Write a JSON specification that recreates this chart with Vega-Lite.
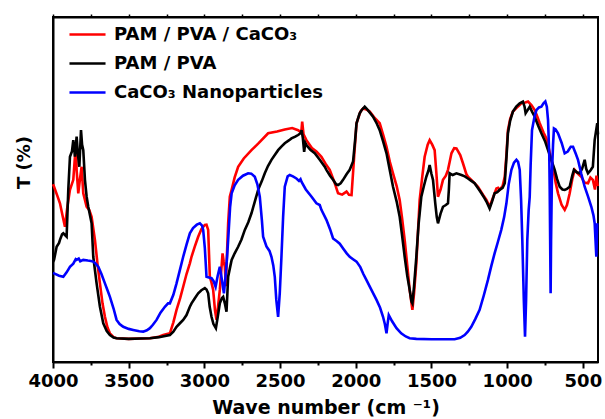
{
  "$schema": "https://vega.github.io/schema/vega-lite/v6.json",
  "width": 545,
  "height": 345,
  "autosize": {"type": "none"},
  "padding": {"left": 53, "top": 17, "right": 7, "bottom": 57},
  "background": "white",
  "config": {
    "view": {"stroke": "black", "strokeWidth": 2},
    "font": "DejaVu Sans"
  },
  "datasets": {
    "red": [
      {"wn":4000,"T":51.5},{"wn":3993,"T":50.8},{"wn":3970,"T":48},{"wn":3954,"T":46},{"wn":3935,"T":42},{"wn":3921,"T":39.2},{"wn":3905,"T":45},{"wn":3888,"T":49.9},{"wn":3866,"T":52.8},{"wn":3855,"T":59.5},{"wn":3848,"T":62.5},{"wn":3844,"T":55.7},{"wn":3833,"T":48.9},{"wn":3822,"T":53},{"wn":3811,"T":56.6},{"wn":3800,"T":48.9},{"wn":3789,"T":47},{"wn":3778,"T":45},{"wn":3760,"T":44},{"wn":3745,"T":42.1},{"wn":3723,"T":35.4},{"wn":3705,"T":28},{"wn":3690,"T":22.8},{"wn":3673,"T":17},{"wn":3657,"T":13.1},{"wn":3640,"T":10},{"wn":3624,"T":8.3},{"wn":3600,"T":7.2},{"wn":3580,"T":6.9},{"wn":3500,"T":6.7},{"wn":3420,"T":6.8},{"wn":3360,"T":6.9},{"wn":3300,"T":7.3},{"wn":3272,"T":7.8},{"wn":3228,"T":8.3},{"wn":3205,"T":11.5},{"wn":3184,"T":15.1},{"wn":3160,"T":18.5},{"wn":3140,"T":21.8},{"wn":3118,"T":25.5},{"wn":3096,"T":28.6},{"wn":3085,"T":30.5},{"wn":3063,"T":33.5},{"wn":3041,"T":36.3},{"wn":3020,"T":38.5},{"wn":2997,"T":39.7},{"wn":2986,"T":39.8},{"wn":2975,"T":38.3},{"wn":2964,"T":24.7},{"wn":2953,"T":23},{"wn":2942,"T":20.9},{"wn":2930,"T":15},{"wn":2920,"T":12.2},{"wn":2910,"T":16},{"wn":2898,"T":20.9},{"wn":2880,"T":31.5},{"wn":2872,"T":29},{"wn":2865,"T":27.6},{"wn":2858,"T":22},{"wn":2852,"T":30},{"wn":2843,"T":40.2},{"wn":2832,"T":47.9},{"wn":2820,"T":49.9},{"wn":2800,"T":53.5},{"wn":2777,"T":56.6},{"wn":2740,"T":59},{"wn":2689,"T":61.4},{"wn":2640,"T":63.5},{"wn":2579,"T":66.3},{"wn":2520,"T":66.8},{"wn":2469,"T":67.4},{"wn":2420,"T":67.8},{"wn":2381,"T":67.2},{"wn":2360,"T":66.5},{"wn":2354,"T":69.7},{"wn":2345,"T":66},{"wn":2326,"T":64.3},{"wn":2290,"T":62},{"wn":2260,"T":61},{"wn":2227,"T":59.5},{"wn":2200,"T":57.5},{"wn":2172,"T":55.7},{"wn":2140,"T":52},{"wn":2117,"T":48.9},{"wn":2090,"T":48.5},{"wn":2061,"T":49.4},{"wn":2045,"T":48.5},{"wn":2028,"T":48.4},{"wn":2010,"T":60},{"wn":1995,"T":69.2},{"wn":1970,"T":72.5},{"wn":1952,"T":73.5},{"wn":1930,"T":73.2},{"wn":1908,"T":72.6},{"wn":1880,"T":71},{"wn":1842,"T":69.2},{"wn":1820,"T":66},{"wn":1797,"T":62.4},{"wn":1775,"T":58},{"wn":1754,"T":54.7},{"wn":1730,"T":51},{"wn":1710,"T":47},{"wn":1695,"T":42},{"wn":1677,"T":35.4},{"wn":1660,"T":28},{"wn":1644,"T":20.9},{"wn":1626,"T":15.1},{"wn":1615,"T":20},{"wn":1600,"T":28.6},{"wn":1590,"T":37},{"wn":1578,"T":47},{"wn":1560,"T":54},{"wn":1545,"T":59.5},{"wn":1525,"T":63},{"wn":1512,"T":64.3},{"wn":1495,"T":63},{"wn":1479,"T":61.4},{"wn":1468,"T":55},{"wn":1457,"T":47.9},{"wn":1440,"T":50},{"wn":1424,"T":52.8},{"wn":1405,"T":54},{"wn":1391,"T":55.7},{"wn":1380,"T":58},{"wn":1368,"T":60.5},{"wn":1350,"T":62},{"wn":1335,"T":61.9},{"wn":1310,"T":60},{"wn":1292,"T":57.6},{"wn":1270,"T":54.5},{"wn":1259,"T":53.7},{"wn":1230,"T":52.5},{"wn":1193,"T":50.8},{"wn":1160,"T":48.5},{"wn":1137,"T":47},{"wn":1116,"T":45},{"wn":1095,"T":47.5},{"wn":1071,"T":50.3},{"wn":1060,"T":50.5},{"wn":1050,"T":49.9},{"wn":1030,"T":51},{"wn":1016,"T":53.7},{"wn":1005,"T":60},{"wn":995,"T":67.2},{"wn":980,"T":70.5},{"wn":962,"T":72.6},{"wn":930,"T":74},{"wn":906,"T":75},{"wn":880,"T":75.2},{"wn":862,"T":75.5},{"wn":840,"T":74.5},{"wn":818,"T":73},{"wn":800,"T":71},{"wn":785,"T":69.2},{"wn":760,"T":66.5},{"wn":741,"T":64.8},{"wn":720,"T":61},{"wn":697,"T":56.6},{"wn":680,"T":52},{"wn":664,"T":48.9},{"wn":640,"T":45.5},{"wn":620,"T":44.1},{"wn":605,"T":45.5},{"wn":587,"T":48.9},{"wn":570,"T":53},{"wn":554,"T":55.7},{"wn":530,"T":54.5},{"wn":510,"T":53.7},{"wn":490,"T":52},{"wn":466,"T":51.8},{"wn":450,"T":53.5},{"wn":434,"T":52.8},{"wn":420,"T":50},{"wn":410,"T":54},{"wn":402,"T":51}
    ],
    "black": [
      {"wn":4000,"T":29},{"wn":3993,"T":29.6},{"wn":3976,"T":33.4},{"wn":3960,"T":34.5},{"wn":3954,"T":35.4},{"wn":3940,"T":37},{"wn":3932,"T":37.3},{"wn":3910,"T":36.3},{"wn":3899,"T":49.9},{"wn":3888,"T":59.5},{"wn":3875,"T":61},{"wn":3866,"T":64.3},{"wn":3855,"T":59.5},{"wn":3844,"T":65.3},{"wn":3835,"T":60},{"wn":3826,"T":56.6},{"wn":3815,"T":67.2},{"wn":3808,"T":63},{"wn":3800,"T":61.4},{"wn":3789,"T":52.8},{"wn":3778,"T":48},{"wn":3767,"T":45},{"wn":3745,"T":40.2},{"wn":3734,"T":30.5},{"wn":3712,"T":22.8},{"wn":3690,"T":16},{"wn":3668,"T":11.2},{"wn":3645,"T":9},{"wn":3624,"T":7.8},{"wn":3600,"T":7.1},{"wn":3580,"T":6.9},{"wn":3500,"T":6.7},{"wn":3420,"T":6.8},{"wn":3360,"T":6.9},{"wn":3300,"T":7.2},{"wn":3228,"T":7.8},{"wn":3205,"T":8.8},{"wn":3184,"T":10.2},{"wn":3160,"T":11.3},{"wn":3140,"T":12.2},{"wn":3118,"T":13.6},{"wn":3096,"T":16},{"wn":3085,"T":17},{"wn":3063,"T":18.5},{"wn":3041,"T":19.9},{"wn":3020,"T":20.8},{"wn":2997,"T":21.4},{"wn":2986,"T":21},{"wn":2975,"T":19.9},{"wn":2965,"T":16},{"wn":2953,"T":13.1},{"wn":2940,"T":11},{"wn":2924,"T":9.8},{"wn":2912,"T":13},{"wn":2898,"T":17},{"wn":2885,"T":18.5},{"wn":2876,"T":18.9},{"wn":2865,"T":17},{"wn":2854,"T":14.6},{"wn":2848,"T":20},{"wn":2843,"T":24.7},{"wn":2830,"T":27.5},{"wn":2820,"T":29.6},{"wn":2800,"T":31.5},{"wn":2777,"T":33.4},{"wn":2755,"T":35.5},{"wn":2733,"T":38.3},{"wn":2710,"T":40.5},{"wn":2689,"T":43.1},{"wn":2667,"T":46.5},{"wn":2645,"T":49.9},{"wn":2620,"T":52.5},{"wn":2601,"T":54.7},{"wn":2580,"T":56.8},{"wn":2557,"T":58.6},{"wn":2535,"T":60},{"wn":2513,"T":61.4},{"wn":2490,"T":62.5},{"wn":2469,"T":63.4},{"wn":2440,"T":64.3},{"wn":2425,"T":64.8},{"wn":2400,"T":65.3},{"wn":2381,"T":65.8},{"wn":2365,"T":66.3},{"wn":2358,"T":67.2},{"wn":2350,"T":65},{"wn":2341,"T":60.9},{"wn":2333,"T":63.5},{"wn":2326,"T":62.9},{"wn":2300,"T":61.5},{"wn":2271,"T":60.5},{"wn":2238,"T":58.6},{"wn":2205,"T":56.6},{"wn":2194,"T":55.7},{"wn":2170,"T":54},{"wn":2150,"T":52.8},{"wn":2130,"T":51.5},{"wn":2117,"T":51.3},{"wn":2100,"T":51.8},{"wn":2084,"T":52.8},{"wn":2060,"T":54.5},{"wn":2040,"T":55.7},{"wn":2018,"T":58.1},{"wn":2005,"T":64},{"wn":1995,"T":69.2},{"wn":1975,"T":72},{"wn":1962,"T":73},{"wn":1941,"T":74},{"wn":1920,"T":73},{"wn":1886,"T":71.1},{"wn":1860,"T":69},{"wn":1842,"T":67.2},{"wn":1820,"T":64},{"wn":1797,"T":60.5},{"wn":1775,"T":55.5},{"wn":1754,"T":50.8},{"wn":1730,"T":46.5},{"wn":1710,"T":42.1},{"wn":1695,"T":37},{"wn":1677,"T":30.5},{"wn":1660,"T":25},{"wn":1644,"T":20.9},{"wn":1632,"T":17.5},{"wn":1626,"T":17},{"wn":1615,"T":22},{"wn":1600,"T":30.5},{"wn":1585,"T":40},{"wn":1567,"T":47.9},{"wn":1550,"T":51},{"wn":1534,"T":53.7},{"wn":1520,"T":55.5},{"wn":1512,"T":57.1},{"wn":1500,"T":54.5},{"wn":1490,"T":52.8},{"wn":1475,"T":46},{"wn":1465,"T":42},{"wn":1457,"T":40.2},{"wn":1440,"T":43},{"wn":1424,"T":45},{"wn":1405,"T":45.5},{"wn":1391,"T":46},{"wn":1385,"T":50},{"wn":1380,"T":54.7},{"wn":1360,"T":54.2},{"wn":1335,"T":54.7},{"wn":1302,"T":54.2},{"wn":1280,"T":53.8},{"wn":1259,"T":53.2},{"wn":1237,"T":52.5},{"wn":1215,"T":51.8},{"wn":1190,"T":50.2},{"wn":1170,"T":48.9},{"wn":1150,"T":47.5},{"wn":1137,"T":46.5},{"wn":1116,"T":44.5},{"wn":1100,"T":46.5},{"wn":1083,"T":48.9},{"wn":1065,"T":49.2},{"wn":1050,"T":49.9},{"wn":1030,"T":50.5},{"wn":1016,"T":51.8},{"wn":1005,"T":59},{"wn":995,"T":66.3},{"wn":980,"T":70},{"wn":962,"T":72.6},{"wn":940,"T":74},{"wn":917,"T":75},{"wn":896,"T":75.5},{"wn":885,"T":74},{"wn":878,"T":72.1},{"wn":865,"T":73},{"wn":851,"T":74},{"wn":835,"T":72.5},{"wn":818,"T":71.1},{"wn":795,"T":68.5},{"wn":774,"T":66.3},{"wn":750,"T":64},{"wn":730,"T":61.4},{"wn":708,"T":58.5},{"wn":686,"T":55.7},{"wn":670,"T":53},{"wn":653,"T":50.8},{"wn":635,"T":50},{"wn":620,"T":49.9},{"wn":605,"T":50.2},{"wn":587,"T":50.8},{"wn":570,"T":54},{"wn":559,"T":55.7},{"wn":540,"T":55},{"wn":521,"T":54.7},{"wn":505,"T":56},{"wn":488,"T":58.6},{"wn":478,"T":56},{"wn":466,"T":54.7},{"wn":450,"T":55.5},{"wn":434,"T":56.6},{"wn":422,"T":64.3},{"wn":405,"T":69.2},{"wn":400,"T":66}
    ],
    "blue": [
      {"wn":4000,"T":25.8},{"wn":3993,"T":25.7},{"wn":3960,"T":25},{"wn":3932,"T":24.7},{"wn":3910,"T":26},{"wn":3888,"T":27.6},{"wn":3866,"T":28.5},{"wn":3850,"T":29.8},{"wn":3844,"T":29.6},{"wn":3830,"T":30},{"wn":3820,"T":29.2},{"wn":3800,"T":29.6},{"wn":3770,"T":29.4},{"wn":3750,"T":29.3},{"wn":3734,"T":29.1},{"wn":3718,"T":28.5},{"wn":3701,"T":27.6},{"wn":3680,"T":25.5},{"wn":3657,"T":22.8},{"wn":3640,"T":20.8},{"wn":3624,"T":18.9},{"wn":3600,"T":15.5},{"wn":3580,"T":12.2},{"wn":3560,"T":11},{"wn":3536,"T":10.2},{"wn":3500,"T":9.6},{"wn":3470,"T":9.3},{"wn":3430,"T":8.9},{"wn":3404,"T":8.8},{"wn":3380,"T":9.2},{"wn":3360,"T":9.8},{"wn":3340,"T":10.8},{"wn":3316,"T":12.2},{"wn":3290,"T":14.3},{"wn":3261,"T":16},{"wn":3240,"T":17},{"wn":3228,"T":17},{"wn":3205,"T":19.5},{"wn":3184,"T":22.8},{"wn":3160,"T":27},{"wn":3140,"T":30.5},{"wn":3118,"T":34},{"wn":3096,"T":37.3},{"wn":3075,"T":38.8},{"wn":3050,"T":39.8},{"wn":3030,"T":40.2},{"wn":3015,"T":39.5},{"wn":3008,"T":38.3},{"wn":2997,"T":33},{"wn":2986,"T":24.7},{"wn":2970,"T":24.5},{"wn":2953,"T":24.3},{"wn":2940,"T":23.5},{"wn":2926,"T":21.8},{"wn":2912,"T":25},{"wn":2898,"T":27.6},{"wn":2885,"T":24},{"wn":2871,"T":19.9},{"wn":2860,"T":25},{"wn":2850,"T":30.5},{"wn":2843,"T":35.4},{"wn":2830,"T":45},{"wn":2820,"T":48.9},{"wn":2800,"T":51.2},{"wn":2777,"T":52.8},{"wn":2745,"T":54},{"wn":2711,"T":54.7},{"wn":2690,"T":54.6},{"wn":2667,"T":53.7},{"wn":2650,"T":51.5},{"wn":2634,"T":47.9},{"wn":2620,"T":41},{"wn":2612,"T":36.3},{"wn":2590,"T":33.5},{"wn":2570,"T":32.2},{"wn":2557,"T":30.5},{"wn":2545,"T":28},{"wn":2535,"T":24.7},{"wn":2525,"T":18},{"wn":2513,"T":13.1},{"wn":2502,"T":20},{"wn":2491,"T":30.5},{"wn":2480,"T":42},{"wn":2469,"T":50.8},{"wn":2450,"T":53.8},{"wn":2436,"T":54.2},{"wn":2415,"T":53.8},{"wn":2392,"T":53.2},{"wn":2375,"T":52.5},{"wn":2365,"T":53},{"wn":2358,"T":52.2},{"wn":2330,"T":50},{"wn":2292,"T":47.9},{"wn":2260,"T":46},{"wn":2238,"T":45.5},{"wn":2227,"T":44.1},{"wn":2194,"T":41.2},{"wn":2170,"T":38.5},{"wn":2150,"T":35.8},{"wn":2125,"T":35},{"wn":2106,"T":34.3},{"wn":2080,"T":32.7},{"wn":2060,"T":31.5},{"wn":2040,"T":30.5},{"wn":2018,"T":29.8},{"wn":1995,"T":29.1},{"wn":1970,"T":27.5},{"wn":1950,"T":25.5},{"wn":1930,"T":23.8},{"wn":1900,"T":21.2},{"wn":1863,"T":18},{"wn":1840,"T":15.8},{"wn":1820,"T":13.1},{"wn":1808,"T":11},{"wn":1797,"T":8.3},{"wn":1790,"T":11},{"wn":1782,"T":13.6},{"wn":1760,"T":11.8},{"wn":1731,"T":9.8},{"wn":1700,"T":8.3},{"wn":1670,"T":7.4},{"wn":1644,"T":6.9},{"wn":1600,"T":6.7},{"wn":1500,"T":6.6},{"wn":1400,"T":6.6},{"wn":1347,"T":6.6},{"wn":1310,"T":7},{"wn":1281,"T":7.8},{"wn":1260,"T":8.8},{"wn":1237,"T":10.2},{"wn":1210,"T":12.5},{"wn":1182,"T":15.1},{"wn":1155,"T":19.2},{"wn":1127,"T":23.8},{"wn":1105,"T":27.8},{"wn":1083,"T":31.5},{"wn":1060,"T":35},{"wn":1039,"T":38.3},{"wn":1020,"T":42},{"wn":1005,"T":46},{"wn":990,"T":51.5},{"wn":972,"T":55.7},{"wn":955,"T":57.8},{"wn":939,"T":58.6},{"wn":928,"T":58},{"wn":917,"T":55.7},{"wn":908,"T":47},{"wn":900,"T":35.4},{"wn":890,"T":18},{"wn":882,"T":7.3},{"wn":875,"T":18},{"wn":867,"T":35.4},{"wn":858,"T":44},{"wn":851,"T":47.9},{"wn":845,"T":57},{"wn":836,"T":67.2},{"wn":820,"T":71},{"wn":807,"T":73},{"wn":790,"T":73.8},{"wn":774,"T":74},{"wn":760,"T":75},{"wn":748,"T":75.5},{"wn":738,"T":74},{"wn":730,"T":70.1},{"wn":722,"T":60},{"wn":719,"T":49.9},{"wn":716,"T":35},{"wn":713,"T":19.9},{"wn":710,"T":35},{"wn":704,"T":54.7},{"wn":697,"T":63},{"wn":691,"T":67.7},{"wn":680,"T":67.4},{"wn":664,"T":66.3},{"wn":640,"T":63.5},{"wn":620,"T":60.5},{"wn":600,"T":61},{"wn":580,"T":62.4},{"wn":565,"T":62.4},{"wn":548,"T":60.5},{"wn":532,"T":58.6},{"wn":510,"T":54.5},{"wn":488,"T":50.8},{"wn":466,"T":48},{"wn":444,"T":45},{"wn":430,"T":42.5},{"wn":422,"T":40.2},{"wn":411,"T":30.5},{"wn":405,"T":40.2}
    ]
  },
  "layer": [
    {
      "layer": [
        {
          "data": {"name": "red"},
          "mark": {"type": "line", "strokeWidth": 2.6},
          "encoding": {"color": {"datum": "PAM / PVA / CaCO₃"}}
        },
        {
          "data": {"name": "black"},
          "mark": {"type": "line", "strokeWidth": 2.6},
          "encoding": {"color": {"datum": "PAM / PVA"}}
        },
        {
          "data": {"name": "blue"},
          "mark": {"type": "line", "strokeWidth": 2.6},
          "encoding": {"color": {"datum": "CaCO₃ Nanoparticles"}}
        }
      ],
      "encoding": {
        "x": {
          "field": "wn", "type": "quantitative",
          "scale": {"domain": [400, 4000], "reverse": true, "nice": false, "zero": false},
          "axis": {
            "orient": "bottom",
            "values": [4000,3750,3500,3250,3000,2750,2500,2250,2000,1750,1500,1250,1000,750,500],
            "format": "d",
            "labelExpr": "datum.value % 500 === 0 ? datum.label : ''",
            "labelOverlap": false,
            "labelFlush": false,
            "grid": false,
            "domainColor": "black", "domainWidth": 2,
            "tickColor": "black", "tickWidth": 2,
            "tickSize": {"condition": {"test": "datum.value % 500 === 0", "value": 6}, "value": 3},
            "labelFont": "DejaVu Sans", "labelFontSize": 18, "labelFontWeight": "bold", "labelColor": "black",
            "labelPadding": 4,
            "title": "Wave number (cm ⁻¹)",
            "titleFont": "DejaVu Sans", "titleFontSize": 19, "titleFontWeight": "bold", "titleColor": "black",
            "titlePadding": 8
          }
        },
        "y": {
          "field": "T", "type": "quantitative",
          "scale": {"domain": [0, 100], "nice": false},
          "axis": {
            "labels": false, "ticks": false, "grid": false,
            "domainColor": "black", "domainWidth": 2,
            "title": "T (%)",
            "titleFont": "DejaVu Sans", "titleFontSize": 18, "titleFontWeight": "bold", "titleColor": "black",
            "titleX": -20, "titleY": 145
          }
        },
        "color": {
          "type": "nominal",
          "scale": {
            "domain": ["PAM / PVA / CaCO₃", "PAM / PVA", "CaCO₃ Nanoparticles"],
            "range": ["#ff0000", "#000000", "#0000ff"]
          },
          "legend": {
            "orient": "none", "legendX": 15, "legendY": -2,
            "title": null,
            "symbolType": "stroke", "symbolSize": 1300, "symbolStrokeWidth": 2.5,
            "labelFont": "DejaVu Sans", "labelFontSize": 18, "labelFontWeight": "bold", "labelColor": "black",
            "labelOffset": 7, "rowPadding": 0, "labelLimit": 400
          }
        }
      }
    },
    {
      "data": {"name": "black"},
      "mark": {"type": "line", "opacity": 0},
      "encoding": {
        "x": {
          "field": "wn", "type": "quantitative",
          "axis": {
            "orient": "top",
            "values": [4000,3750,3500,3250,3000,2750,2500,2250,2000,1750,1500,1250,1000,750,500],
            "labels": false, "grid": false, "title": null,
            "domainColor": "black", "domainWidth": 2,
            "tickColor": "black", "tickWidth": 1.5, "tickSize": 3
          }
        },
        "y": {"field": "T", "type": "quantitative"}
      }
    }
  ],
  "resolve": {"axis": {"x": "independent"}}
}
